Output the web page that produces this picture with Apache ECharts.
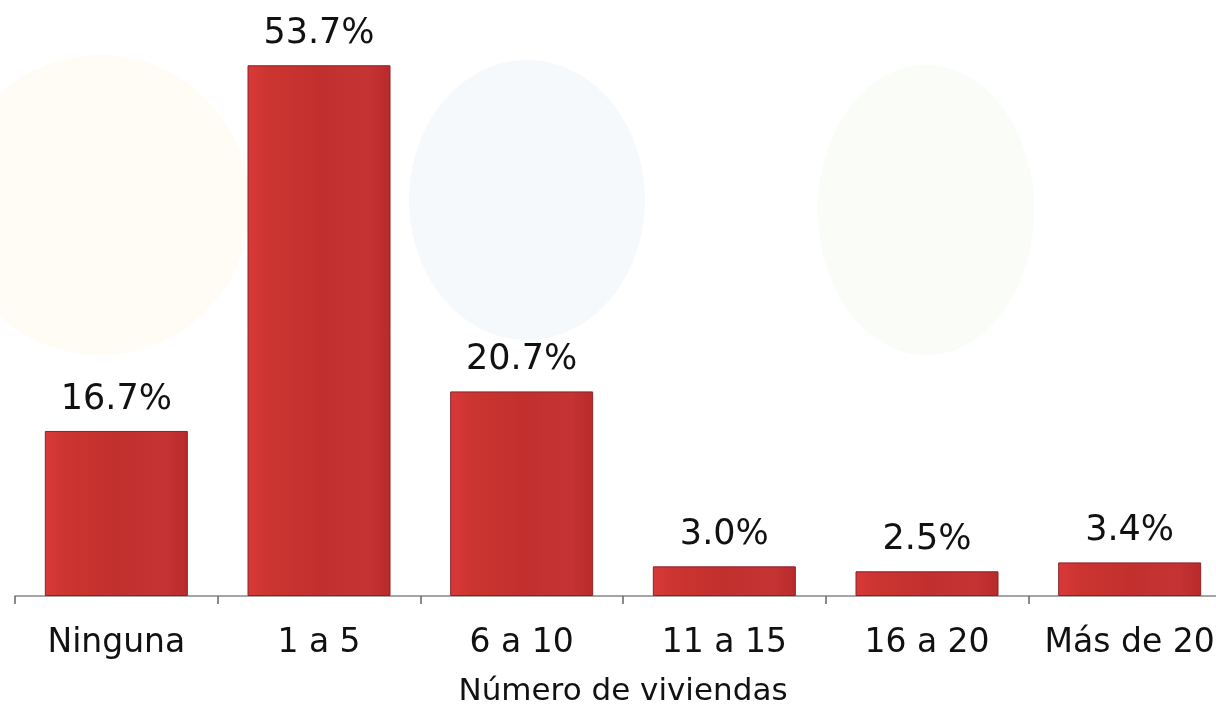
<!DOCTYPE html>
<html>
<head>
<meta charset="utf-8">
<script src="https://cdn.jsdelivr.net/npm/echarts@6/dist/echarts.min.js"></script>
<style>
html,body{margin:0;padding:0;background:#fff;overflow:hidden;}
#chart{width:1216px;height:706px;}
</style>
</head>
<body>
<div id="chart"></div>
<script>
const categories = ['Ninguna', '1 a 5', '6 a 10', '11 a 15', '16 a 20', 'Más de 20'];
const values = [16.7, 53.7, 20.7, 3.0, 2.5, 3.4];
const axisName = 'Número de viviendas';

const chart = echarts.init(document.getElementById('chart'));
const font = 'DejaVu Sans, Verdana, sans-serif';
chart.setOption({
  backgroundColor: '#ffffff',
  animation: false,
  graphic: [
    { type: 'ellipse', z: -10, shape: { cx: 100, cy: 205, rx: 150, ry: 150 }, style: { fill: '#fffcf6' } },
    { type: 'ellipse', z: -10, shape: { cx: 527, cy: 200, rx: 118, ry: 140 }, style: { fill: '#f6f9fc' } },
    { type: 'ellipse', z: -10, shape: { cx: 926, cy: 210, rx: 108, ry: 145 }, style: { fill: '#f9fcf7' } }
  ],
  grid: { left: 15, width: 1216, top: 3, bottom: 110, containLabel: false, outerBoundsMode: 'none' },
  xAxis: {
    type: 'category',
    data: categories,
    name: axisName,
    nameLocation: 'middle',
    nameGap: 80,
    nameTextStyle: { fontFamily: font, fontSize: 31, color: '#111' },
    axisLine: { show: true, lineStyle: { color: '#888', width: 1.5 } },
    axisTick: { show: true, length: 8, lineStyle: { color: '#666', width: 1.5 } },
    axisLabel: { fontFamily: font, fontSize: 33, color: '#111', margin: 31, interval: 0, hideOverlap: false }
  },
  yAxis: {
    type: 'value', min: 0, max: 60, show: false,
    splitLine: { show: false }
  },
  series: [{
    type: 'bar',
    data: values,
    barWidth: 143,
    itemStyle: {
      color: new echarts.graphic.LinearGradient(0, 0, 1, 0, [
        { offset: 0, color: '#d8393a' },
        { offset: 0.15, color: '#cc3430' },
        { offset: 0.5, color: '#c2302e' },
        { offset: 0.85, color: '#c53333' },
        { offset: 1, color: '#b82a2c' }
      ]),
      borderColor: '#8a2328',
      borderWidth: 1
    },
    label: {
      show: true,
      position: 'top',
      distance: 14,
      fontFamily: font,
      fontSize: 35,
      color: '#111',
      formatter: p => p.value.toFixed(1) + '%'
    }
  }]
});
</script>
</body>
</html>
